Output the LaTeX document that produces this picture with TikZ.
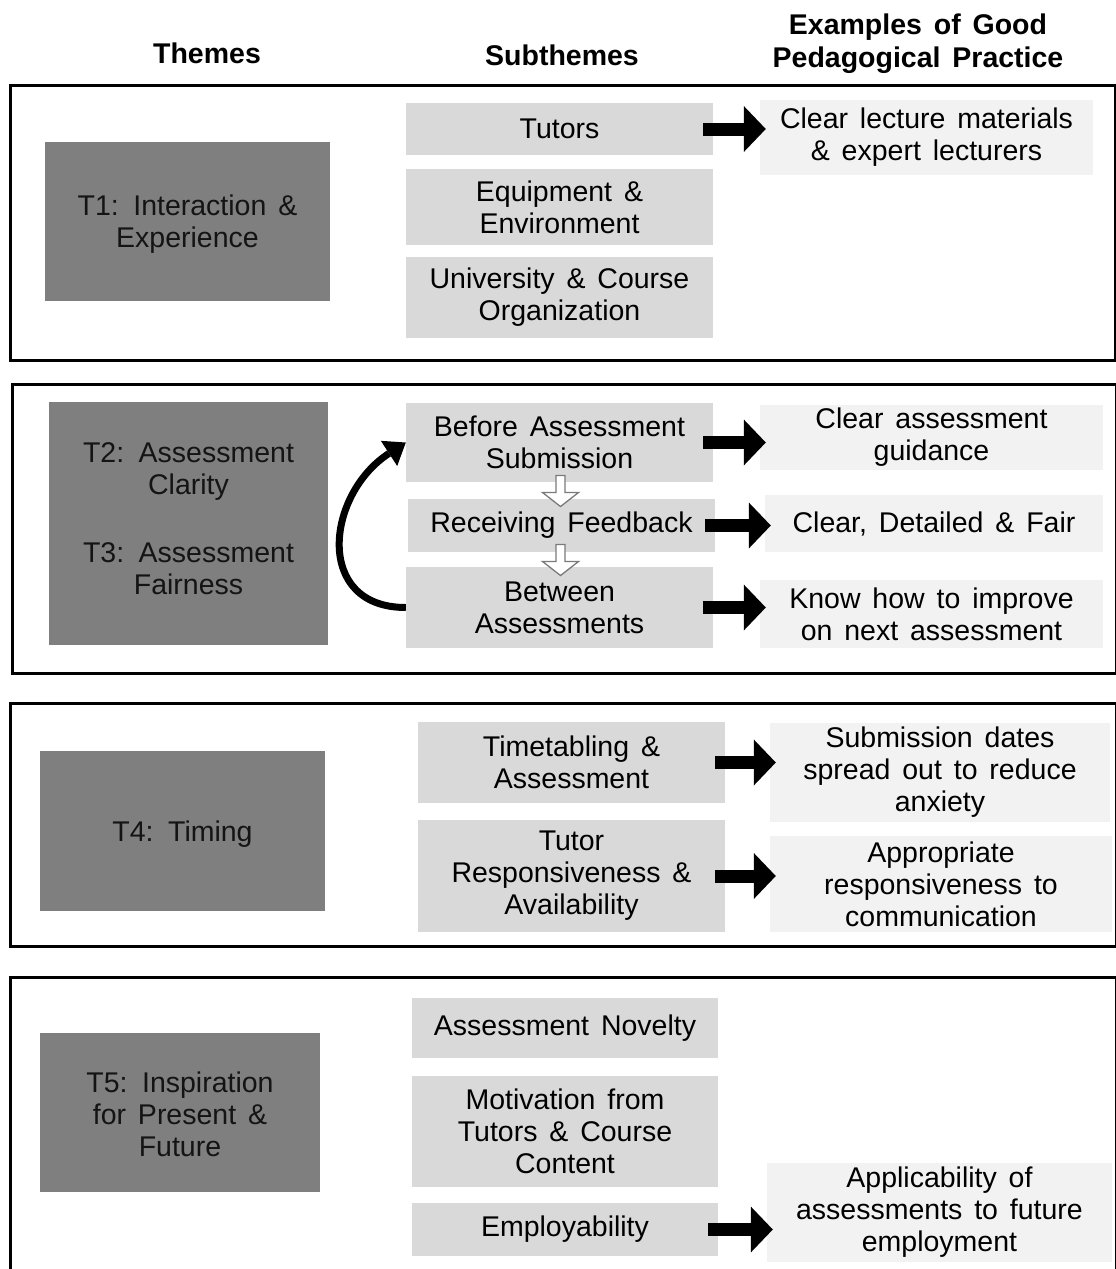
\documentclass[tikz,border=0pt]{standalone}
\usepackage{fontspec}
\setmainfont{Liberation Sans}[WordSpace=1.5]
\usetikzlibrary{arrows.meta,calc}
\definecolor{themegray}{HTML}{7F7F7F}
\definecolor{subgray}{HTML}{D9D9D9}
\definecolor{exgray}{HTML}{F2F2F2}
\definecolor{hollowgray}{HTML}{7A7A7A}
\begin{document}
\begin{tikzpicture}[x=1pt,y=-1pt,
  base/.style={font=\fontsize{28.5}{32}\selectfont, align=center, inner sep=0pt, text=black},
  frame/.style={draw=black, line width=3pt},
  theme/.style={base, fill=themegray, text=black!92},
  sub/.style={base, fill=subgray},
  ex/.style={base, fill=exgray},
  headtxt/.style={base, font=\fontsize{28.5}{33}\selectfont\bfseries},
  bigarrow/.style={line width=13pt, -{Triangle[length=22pt,width=46pt,line width=0pt]}, shorten <=-10pt, shorten >=-6pt},
  curvearrow/.style={line width=7pt, -{Triangle[length=20pt,width=30pt,line width=0pt]}},
  hollow/.style={draw=hollowgray, line width=1.3pt, fill=white, line join=miter}
]
\useasboundingbox (0,0) rectangle (1116,1269);
\fill[white] (0,0) rectangle (1116,1269);

% headers
\node[headtxt] (hthemes) at (207,53) {Themes};
\node[headtxt] (hsub) at (562,55) {Subthemes};
\node[headtxt] (hex) at (918,44) {Examples of Good\\Pedagogical Practice};

% frames
\draw[frame] (10,85) rectangle (1115,360);
\draw[frame] (12,384) rectangle (1116,673);
\draw[frame] (10,703) rectangle (1116,946);
\draw[frame] (10,977) rectangle (1116,1300);

% block 1
\node[theme, minimum width=285pt, minimum height=159pt, label={[base, text=black!92, yshift=-3pt]center:{T1: Interaction \&\\Experience}}] (t1) at (187.5,221.5) {};
\node[sub, minimum width=307pt, minimum height=52pt] (s11) at (559.5,129) {Tutors};
\node[sub, minimum width=307pt, minimum height=76pt] (s12) at (559.5,207) {Equipment \&\\Environment};
\node[sub, minimum width=307pt, minimum height=81pt] (s13) at (559.5,297.5) {University \& Course\\Organization};
\node[ex, minimum width=333pt, minimum height=75pt] (e11) at (926.5,137.5) {Clear lecture materials\\\& expert lecturers};

% block 2
\node[theme, minimum width=279pt, minimum height=243pt, label={[base, text=black!92, yshift=5pt]center:{T2: Assessment\\Clarity\\[36pt]T3: Assessment\\Fairness}}] (t23) at (188.5,523.5) {};
\node[sub, minimum width=307pt, minimum height=79pt] (s21) at (559.5,442.5) {Before Assessment\\Submission};
\node[sub, minimum width=307pt, minimum height=53pt] (s22) at (561.5,525.5) {Receiving Feedback};
\node[sub, minimum width=307pt, minimum height=81pt] (s23) at (559.5,607.5) {Between\\Assessments};
\node[ex, minimum width=343pt, minimum height=65pt] (e21) at (931.5,437.5) {Clear assessment\\guidance};
\node[ex, minimum width=338pt, minimum height=57pt] (e22) at (934,523.5) {Clear, Detailed \& Fair};
\node[ex, minimum width=343pt, minimum height=68pt] (e23) at (931.5,614) {Know how to improve\\on next assessment};

% block 3
\node[theme, minimum width=285pt, minimum height=160pt, label={[base, text=black!92, yshift=-3pt]center:{T4: Timing}}] (t4) at (182.5,831) {};
\node[sub, minimum width=307pt, minimum height=81pt] (s31) at (571.5,762.5) {Timetabling \&\\Assessment};
\node[sub, minimum width=307pt, minimum height=112pt] (s32) at (571.5,876) {Tutor\\Responsiveness \&\\Availability};
\node[ex, minimum width=340pt, minimum height=99pt] (e31) at (940,772.5) {Submission dates\\spread out to reduce\\anxiety};
\node[ex, minimum width=342pt, minimum height=96pt] (e32) at (941,884) {Appropriate\\responsiveness to\\communication};

% block 4
\node[theme, minimum width=280pt, minimum height=159pt, label={[base, text=black!92, yshift=-2pt]center:{T5: Inspiration\\for Present \&\\Future}}] (t5) at (180,1112.5) {};
\node[sub, minimum width=306pt, minimum height=60pt] (s41) at (565,1028) {Assessment Novelty};
\node[sub, minimum width=306pt, minimum height=111pt] (s42) at (565,1131.5) {Motivation from\\Tutors \& Course\\Content};
\node[sub, minimum width=306pt, minimum height=53pt] (s43) at (565,1229.5) {Employability};
\node[ex, minimum width=345pt, minimum height=99pt] (e41) at (939.5,1212.5) {Applicability of\\assessments to future\\employment};

% block arrows
\draw[bigarrow] (s11.east) -- (s11.east -| e11.west);
\draw[bigarrow] (s21.east) -- (s21.east -| e21.west);
\draw[bigarrow] (s22.east) -- (s22.east -| e22.west);
\draw[bigarrow] (s23.east) -- (s23.east -| e23.west);
\draw[bigarrow] (s31.east) -- (s31.east -| e31.west);
\draw[bigarrow] (s32.east) -- (s32.east -| e32.west);
\draw[bigarrow] (s43.east) -- (s43.east -| e41.west);

% curved feedback arrow
\draw[curvearrow] (s23.west) .. controls ($(s23.west)+(-92,0)$) and ($(s21.west)+(-80,52)$) .. (s21.west);

% hollow down arrows
\coordinate (h1) at ($(s21.south)!0.5!(s22.north)$);
\coordinate (h2) at ($(s22.south)!0.5!(s23.north)$);
\foreach \h in {h1,h2}{
  \draw[hollow] ($(\h)+(-4.5,-15)$) -- ++(9,0) -- ++(0,17) -- ++(13.5,0) -- ++(-18,14) -- ++(-18,-14) -- ++(13.5,0) -- cycle;
}
\end{tikzpicture}
\end{document}
